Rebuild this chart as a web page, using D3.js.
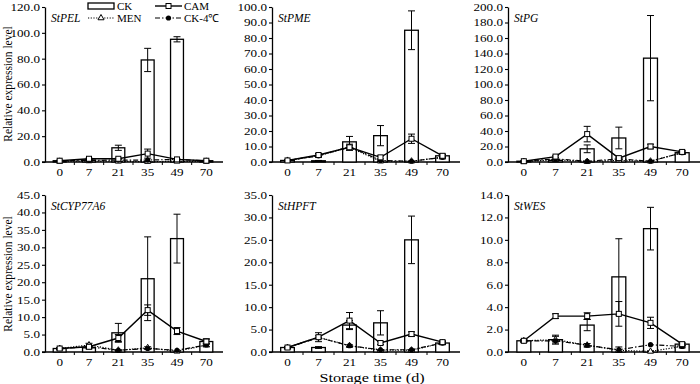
<!DOCTYPE html>
<html>
<head>
<meta charset="utf-8">
<script src="https://cdn.jsdelivr.net/npm/d3@7"></script>
<style>
  body { margin: 0; background: #fff; }
  text { font-family: "Liberation Serif", "Times New Roman", serif; fill: #000; }
</style>
</head>
<body>
<div id="chart"></div>
<script>
// storage days and genes
var days = ["0", "7", "21", "35", "49", "70"];
var genes = ["StPEL", "StPME", "StPG", "StCYP77A6", "StHPFT", "StWES"];
var yMax = [120, 100, 200, 45, 35, 14];
var yStep = [20, 10, 20, 5, 5, 2];

// CK bars (mean, error)
var ckVals = [
  [1, 1.5, 11, 79, 95, 1],
  [1, 0.8, 13, 17, 85, 4],
  [1, 2, 17, 31, 134, 12],
  [1, 1.2, 5.5, 21, 32.5, 3],
  [1, 1, 6, 6.5, 25, 2],
  [1, 1.1, 2.4, 6.7, 11, 0.7]
];
var ckErr = [
  [0.3, 0.5, 2, 9, 2, 0.3],
  [0.3, 0.2, 3.5, 6.5, 12.5, 1],
  [0.5, 1, 5, 14, 55, 2],
  [0.2, 0.3, 2.7, 12, 7, 0.8],
  [0.2, 0.2, 1, 2.7, 5.3, 0.3],
  [0.1, 0.3, 0.5, 3.4, 1.9, 0.1]
];
// CAM line
var camVals = [
  [1, 2.5, 2.5, 6.5, 2, 1],
  [1, 4.5, 9.5, 3, 15, 4],
  [1, 7, 36, 5, 20, 13],
  [1, 1.5, 4, 12, 6, 3],
  [1, 3.3, 7, 2, 4, 2.2],
  [1, 3.2, 3.2, 3.4, 2.6, 0.7]
];
var camErr = [
  [0.3, 0.5, 0.5, 3.5, 0.5, 0.3],
  [0.3, 1, 2, 1, 3, 1],
  [0.5, 1, 10, 1, 3, 2],
  [0.2, 0.3, 1, 1.5, 1, 0.5],
  [0.2, 1, 1.8, 0.3, 0.5, 0.3],
  [0.1, 0.2, 0.3, 1.1, 0.5, 0.1]
];
// MEN line
var menVals = [
  [0.5, 0.8, 0.5, 0.3, 0.5, 0.5],
  [1, 4, 9.5, 0.5, 0.5, 3],
  [0.5, 3, 0.5, 2, 1, 12],
  [1, 2, 0.5, 1.2, 0.2, 2],
  [1, 3.3, 1.4, 0.4, 0.4, 2],
  [1, 1.1, 0.6, 0.15, 0.05, 0.5]
];
var menErr = [
  [0.1, 0.1, 0.1, 0.1, 0.1, 0.1],
  [0.2, 0.5, 1, 0.2, 0.2, 0.5],
  [0.2, 0.5, 0.2, 0.5, 0.5, 1],
  [0.1, 0.5, 0.1, 0.3, 0.1, 0.5],
  [0.1, 0.3, 0.2, 0.1, 0.1, 0.2],
  [0.05, 0.4, 0.15, 0.3, 0.05, 0.05]
];
// CK-4°C line
var ck4Vals = [
  [1, 1.2, 1.5, 1.5, 2, 0.8],
  [1, 4, 10, 1, 0.5, 3],
  [1, 4, 1, 4, 1, 12],
  [1, 1.5, 0.5, 1, 0.5, 2],
  [1, 3.2, 1.4, 0.5, 0.5, 2],
  [1, 1, 0.6, 0.2, 0.65, 0.5]
];

var svgWidth = 700, svgHeight = 384;
var colX = [[45, 221], [272, 458], [508, 698]];
var rowY = [[162, 7], [352, 195]];

var svg = d3.select("#chart").append("svg")
  .attr("width", svgWidth)
  .attr("height", svgHeight);

// horizontal stretch of text, like the source figure
function stretch(sel, k) {
  sel.each(function() {
    var t = d3.select(this);
    var x = +t.attr("x") || 0, y = +t.attr("y") || 0;
    t.attr("x", 0).attr("y", 0)
      .attr("transform", "translate(" + x + "," + y + ") scale(" + k + ",1)");
  });
}

genes.forEach(function(gene, i) {
  var col = i % 3, row = Math.floor(i / 3);
  var x = d3.scaleBand().domain(days).range(colX[col]).paddingInner(0).paddingOuter(0);
  var y = d3.scaleLinear().domain([0, yMax[i]]).range(rowY[row]);
  var g = svg.append("g");
  var cx = function(j) { return x(days[j]) + x.bandwidth() / 2; };

  // y axis
  var yAxis = d3.axisLeft(y)
    .tickValues(d3.range(0, yMax[i] + 0.001, yStep[i]))
    .tickFormat(d3.format(".1f"))
    .tickSizeOuter(0).tickSizeInner(3).tickPadding(2);
  var ya = g.append("g").attr("transform", "translate(" + colX[col][0] + ",0)").call(yAxis);
  ya.select(".domain").attr("stroke-width", 1.3);
  ya.selectAll("line").attr("stroke-width", 1.1);
  ya.selectAll("text").attr("font-size", 10.5).attr("font-family", null);
  stretch(ya.selectAll("text"), 1.25);

  // x axis
  var xAxis = d3.axisBottom(x).tickSize(0).tickPadding(7);
  var xa = g.append("g").attr("transform", "translate(0," + rowY[row][0] + ")").call(xAxis);
  xa.select(".domain").remove();
  xa.selectAll("text").attr("font-size", 10.5).attr("font-family", null);
  stretch(xa.selectAll("text"), 1.25);
  g.append("line")
    .attr("x1", colX[col][0] - 3).attr("x2", Math.min(colX[col][1] + 2, 700))
    .attr("y1", rowY[row][0]).attr("y2", rowY[row][0])
    .attr("stroke", "#000").attr("stroke-width", 1.3);
  g.selectAll(".minor").data(days.slice(1)).enter().append("line")
    .attr("x1", function(d) { return x(d); }).attr("x2", function(d) { return x(d); })
    .attr("y1", rowY[row][0]).attr("y2", rowY[row][0] + 3)
    .attr("stroke", "#000").attr("stroke-width", 1);

  // CK bars
  var bw = x.bandwidth() * 0.44;
  g.selectAll(".bar").data(ckVals[i]).enter().append("rect")
    .attr("x", function(d, j) { return cx(j) - bw / 2; })
    .attr("y", function(d) { return y(d); })
    .attr("width", bw)
    .attr("height", function(d) { return rowY[row][0] - y(d); })
    .attr("fill", "#fff").attr("stroke", "#000").attr("stroke-width", 1.3);

  function errBars(vals, errs) {
    var eg = g.append("g");
    vals.forEach(function(v, j) {
      var top = y(v + errs[j]), bot = y(Math.max(0, v - errs[j]));
      eg.append("line").attr("x1", cx(j)).attr("x2", cx(j)).attr("y1", top).attr("y2", bot)
        .attr("stroke", "#000").attr("stroke-width", 1);
      [top, bot].forEach(function(yy) {
        eg.append("line").attr("x1", cx(j) - 3.5).attr("x2", cx(j) + 3.5).attr("y1", yy).attr("y2", yy)
          .attr("stroke", "#000").attr("stroke-width", 1);
      });
    });
  }
  errBars(ckVals[i], ckErr[i]);

  var line = d3.line().x(function(d, j) { return cx(j); }).y(function(d) { return y(d); });

  // MEN dotted with triangles
  g.append("path").datum(menVals[i]).attr("d", line)
    .attr("fill", "none").attr("stroke", "#000").attr("stroke-width", 1.2).attr("stroke-dasharray", "1.2,1.5");
  errBars(menVals[i], menErr[i]);
  g.selectAll(".tri").data(menVals[i]).enter().append("path")
    .attr("d", d3.symbol().type(d3.symbolTriangle).size(16))
    .attr("transform", function(d, j) { return "translate(" + cx(j) + "," + y(d) + ")"; })
    .attr("fill", "#fff").attr("stroke", "#000").attr("stroke-width", 1);

  // CK-4 dash-dot with filled circles
  g.append("path").datum(ck4Vals[i]).attr("d", line)
    .attr("fill", "none").attr("stroke", "#000").attr("stroke-width", 1.2).attr("stroke-dasharray", "5,2,1.5,2");
  g.selectAll(".dot").data(ck4Vals[i]).enter().append("circle")
    .attr("cx", function(d, j) { return cx(j); })
    .attr("cy", function(d) { return y(d); })
    .attr("r", 2.6).attr("fill", "#000");

  // CAM solid with squares
  g.append("path").datum(camVals[i]).attr("d", line)
    .attr("fill", "none").attr("stroke", "#000").attr("stroke-width", 1.4);
  errBars(camVals[i], camErr[i]);
  g.selectAll(".sq").data(camVals[i]).enter().append("rect")
    .attr("x", function(d, j) { return cx(j) - 2.5; })
    .attr("y", function(d) { return y(d) - 2.5; })
    .attr("width", 5).attr("height", 5)
    .attr("fill", "#fff").attr("stroke", "#000").attr("stroke-width", 1);

  // gene title
  g.append("text")
    .attr("x", colX[col][0] + 6)
    .attr("y", rowY[row][1] + 15)
    .attr("font-size", 11.5).attr("font-style", "italic")
    .text(gene);
});

// y axis titles
[84, 274].forEach(function(cy) {
  svg.append("text")
    .attr("transform", "translate(12," + cy + ") scale(1.12,1) rotate(-90)")
    .attr("text-anchor", "middle")
    .attr("font-size", 11.5)
    .text("Relative expression level");
});

// x axis title
svg.append("text")
  .attr("transform", "translate(372,382) scale(1.35,1)")
  .attr("text-anchor", "middle")
  .attr("font-size", 12)
  .text("Storage time (d)");

// legend
var lg = svg.append("g");
lg.append("rect").attr("x", 88).attr("y", 3).attr("width", 26).attr("height", 6)
  .attr("fill", "#fff").attr("stroke", "#000").attr("stroke-width", 1.3);
lg.append("line").attr("x1", 155).attr("x2", 182).attr("y1", 6).attr("y2", 6)
  .attr("stroke", "#000").attr("stroke-width", 1.4);
lg.append("rect").attr("x", 166).attr("y", 3.5).attr("width", 5).attr("height", 5)
  .attr("fill", "#fff").attr("stroke", "#000");
lg.append("line").attr("x1", 88).attr("x2", 114).attr("y1", 18).attr("y2", 18)
  .attr("stroke", "#000").attr("stroke-width", 1.2).attr("stroke-dasharray", "1.2,1.5");
lg.append("path").attr("d", d3.symbol().type(d3.symbolTriangle).size(16))
  .attr("transform", "translate(101,18)").attr("fill", "#fff").attr("stroke", "#000");
lg.append("line").attr("x1", 155).attr("x2", 182).attr("y1", 18).attr("y2", 18)
  .attr("stroke", "#000").attr("stroke-width", 1.2).attr("stroke-dasharray", "5,2,1.5,2");
lg.append("circle").attr("cx", 168.5).attr("cy", 18).attr("r", 2.6).attr("fill", "#000");
[["CK", 117, 10], ["CAM", 184, 10], ["MEN", 117, 22], ["CK-4\u2103", 184, 22]].forEach(function(d) {
  lg.append("text").attr("x", d[1]).attr("y", d[2]).attr("font-size", 11).text(d[0]);
});
</script>
</body>
</html>
